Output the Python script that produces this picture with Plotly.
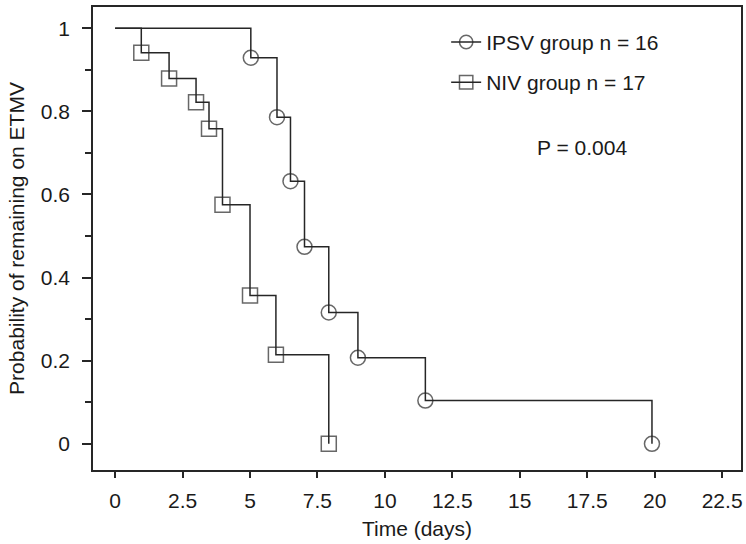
import plotly.graph_objects as go

# IPSV group (Kaplan-Meier steps)
ipsv_t = [0, 5.03, 6.0, 6.5, 7.02, 7.92, 9.0, 11.5, 19.9]
ipsv_s = [1.0, 0.929, 0.786, 0.632, 0.474, 0.316, 0.207, 0.104, 0.0]
# NIV group
niv_t = [0, 0.97, 2.0, 3.0, 3.48, 3.98, 5.0, 5.96, 7.92]
niv_s = [1.0, 0.941, 0.879, 0.822, 0.758, 0.575, 0.357, 0.214, 0.0]

x_ticks = [0, 2.5, 5, 7.5, 10, 12.5, 15, 17.5, 20, 22.5]
y_ticks = [0, 0.2, 0.4, 0.6, 0.8, 1.0]

LC = "#262626"
TC = "#1a1a1a"
FONT = "Liberation Sans, Arial, Helvetica, sans-serif"
FS = 21

fig = go.Figure()
fig.add_trace(go.Scatter(
    x=ipsv_t, y=ipsv_s, mode="lines+markers", line_shape="hv",
    name="IPSV group n = 16", legendgroup="a",
    line=dict(color=LC, width=1.5),
    marker=dict(symbol="circle-open", size=[0] + [15] * (len(ipsv_t) - 1),
                color=LC, line=dict(color=LC, width=1.5)),
))
fig.add_trace(go.Scatter(
    x=niv_t, y=niv_s, mode="lines+markers", line_shape="hv",
    name="NIV group n = 17", legendgroup="b",
    line=dict(color=LC, width=1.5),
    marker=dict(symbol="square-open", size=[0] + [15] * (len(niv_t) - 1),
                color=LC, line=dict(color=LC, width=1.5)),
))

fig.add_annotation(x=17.32, y=0.714, text="P = 0.004", showarrow=False,
                   font=dict(size=FS, color=TC, family=FONT))

fig.update_layout(
    width=746, height=544,
    margin=dict(l=93, r=3, t=7, b=74),
    paper_bgcolor="white", plot_bgcolor="white",
    font=dict(family=FONT, size=FS, color=TC),
    showlegend=True,
    legend=dict(x=0.545, y=0.968, xanchor="left", yanchor="top",
                bgcolor="rgba(0,0,0,0)", font=dict(size=FS, color=TC),
                tracegroupgap=10, traceorder="grouped"),
    xaxis=dict(range=[-0.82, 23.2], tickvals=x_ticks,
               ticktext=[("%g" % v) for v in x_ticks],
               showgrid=False, zeroline=False,
               showline=True, linecolor=LC, linewidth=1.5, mirror=True,
               ticks="outside", ticklen=6, tickwidth=1.5, tickcolor=LC,
               ticklabelstandoff=5,
               title=dict(text="Time (days)", standoff=10,
                          font=dict(size=FS, color=TC))),
    yaxis=dict(range=[-0.063, 1.051], tickvals=y_ticks,
               ticktext=[("%g" % v) for v in y_ticks],
               showgrid=False, zeroline=False,
               showline=True, linecolor=LC, linewidth=1.5, mirror=True,
               ticks="outside", ticklen=9, tickwidth=1.5, tickcolor=LC,
               ticklabelstandoff=8,
               minor=dict(dtick=0.1, tick0=0.1, ticks="outside", ticklen=6,
                          tickwidth=1.5, tickcolor=LC, showgrid=False),
               title=dict(text="Probability of remaining on ETMV", standoff=10,
                          font=dict(size=FS, color=TC))),
)

fig.write_html("out.html")
